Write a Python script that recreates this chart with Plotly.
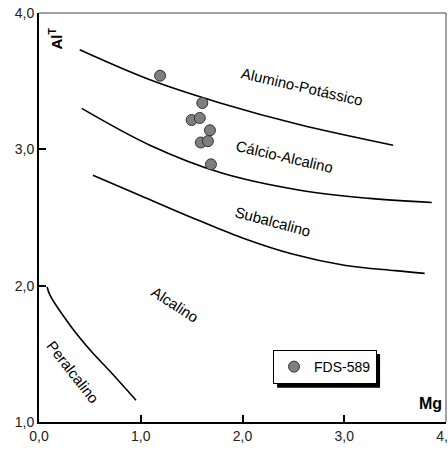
import plotly.graph_objects as go

# --- data ---
sample_name = "FDS-589"
mg = [1.19, 1.605, 1.50, 1.58, 1.68, 1.59, 1.66, 1.69]
al_t = [3.54, 3.34, 3.215, 3.23, 3.14, 3.05, 3.06, 2.89]

# field boundaries
b1_x = [0.40, 1.09, 1.78, 2.565, 3.48]
b1_y = [3.73, 3.51, 3.34, 3.18, 3.03]
b2_x = [0.42, 1.09, 1.78, 2.565, 3.25, 3.86]
b2_y = [3.30, 3.03, 2.83, 2.70, 2.64, 2.61]
b3_x = [0.53, 1.0, 1.5, 2.0, 2.5, 3.0, 3.5, 3.79]
b3_y = [2.81, 2.66, 2.50, 2.35, 2.23, 2.15, 2.11, 2.09]
b4_x = [0.08, 0.108, 0.305, 0.50, 0.70, 0.953]
b4_y = [1.99, 1.93, 1.71, 1.53, 1.37, 1.16]

field_names = ["Alumino-Potássico", "Cálcio-Alcalino", "Subalcalino", "Alcalino", "Peralcalino"]
field_x = [2.58, 2.41, 2.30, 1.34, 0.33]
field_y = [3.46, 2.95, 2.47, 1.865, 1.37]
field_angle = [13, 13, 15, 33, 52]

tick_vals = [0, 1, 2, 3, 4]
x_tick_text = ["0,0", "1,0", "2,0", "3,0", "4,0"]
y_tick_vals = [1, 2, 3, 4]
y_tick_text = ["1,0", "2,0", "3,0", "4,0"]

FONT = "Liberation Sans, Arial, sans-serif"

fig = go.Figure()
for bx, by in [(b1_x, b1_y), (b2_x, b2_y), (b3_x, b3_y), (b4_x, b4_y)]:
    fig.add_trace(go.Scatter(x=bx, y=by, mode="lines", line=dict(color="black", width=1.6, shape="spline", smoothing=1),
                             showlegend=False, hoverinfo="skip"))

fig.add_trace(go.Scatter(x=mg, y=al_t, mode="markers", name=sample_name,
                         marker=dict(size=11, color="#7f7f7f", line=dict(color="#333333", width=1))))

for name, fx, fy, ang in zip(field_names, field_x, field_y, field_angle):
    fig.add_annotation(x=fx, y=fy, text=name, textangle=ang, showarrow=False,
                       font=dict(family=FONT, size=15, color="black"))

fig.add_annotation(x=0.04, xref="paper", y=0.97, yref="paper", text="<b>Al<sup>T</sup></b>",
                   textangle=-90, showarrow=False, xanchor="center", yanchor="top",
                   font=dict(family=FONT, size=15, color="black"))
fig.add_annotation(x=0.995, xref="paper", y=0.02, yref="paper", text="<b>Mg</b>",
                   showarrow=False, xanchor="right", yanchor="bottom",
                   font=dict(family=FONT, size=16, color="black"))

# top / right thin frame lines
fig.add_shape(type="line", xref="paper", yref="paper", x0=0, x1=1, y0=1, y1=1, line=dict(color="#444", width=1))
fig.add_shape(type="line", xref="paper", yref="paper", x0=1, x1=1, y0=0, y1=1, line=dict(color="#444", width=1))
# legend shadow
fig.add_shape(type="rect", xref="paper", yref="paper", x0=0.585, x1=0.838, y0=0.084, y1=0.166,
              fillcolor="black", line=dict(width=0), layer="above")

fig.update_layout(
    width=448, height=449,
    margin=dict(l=39, r=2, t=13, b=27, autoexpand=False),
    plot_bgcolor="white", paper_bgcolor="white",
    font=dict(family=FONT, size=14, color="#222"),
    showlegend=True,
    legend=dict(x=0.575, y=0.176, xanchor="left", yanchor="top", bgcolor="white",
                bordercolor="black", borderwidth=1, font=dict(size=14, color="black"),
                itemwidth=30),
    xaxis=dict(range=[0, 4], tickvals=tick_vals, ticktext=x_tick_text, showgrid=False, zeroline=False,
               showline=True, linecolor="black", linewidth=2, ticks="inside", ticklen=7, tickwidth=1.5,
               tickcolor="black", ticklabeloverflow="allow", automargin=False),
    yaxis=dict(range=[1, 4], tickvals=y_tick_vals, ticktext=y_tick_text, showgrid=False, zeroline=False,
               showline=True, linecolor="black", linewidth=2, ticks="inside", ticklen=7, tickwidth=1.5,
               tickcolor="black", ticklabeloverflow="allow", automargin=False),
)

fig.write_html("out.html", config={"displayModeBar": False},
               post_script="document.body.style.margin='0';document.body.style.overflow='hidden';")
